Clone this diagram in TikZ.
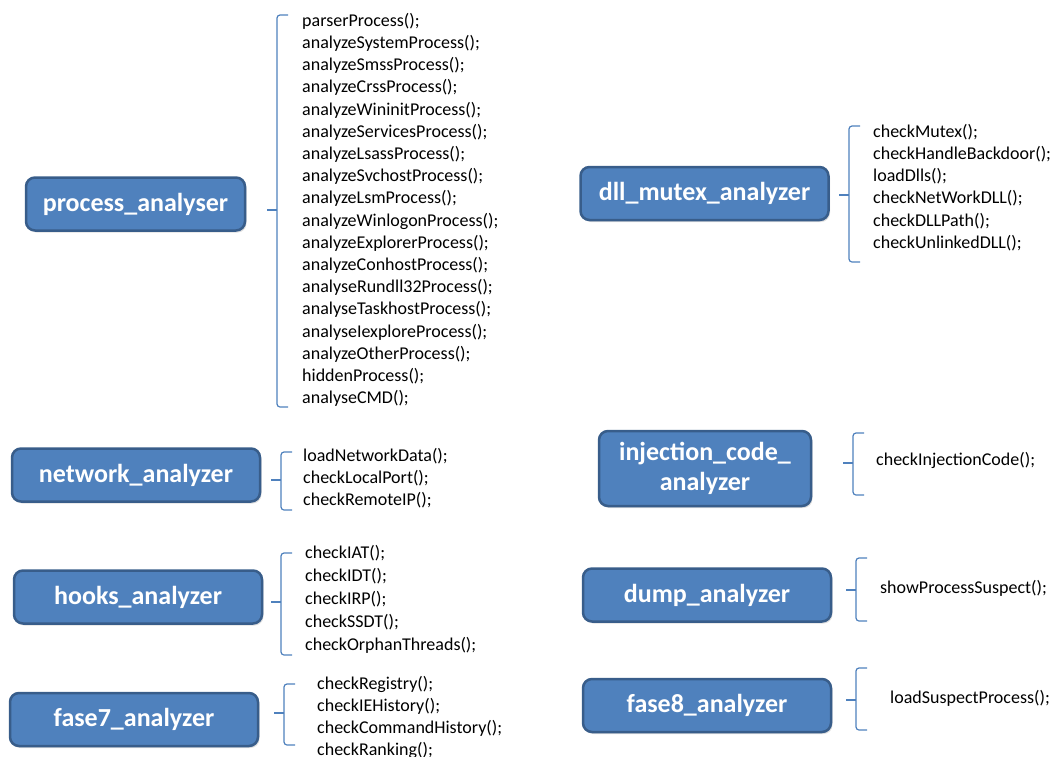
\documentclass[tikz,border=0pt]{standalone}
\usepackage{fontspec}
\setmainfont{Carlito}
\usetikzlibrary{shadows}

\definecolor{boxblue}{HTML}{4F81BD}
\definecolor{boxline}{HTML}{385D8A}

% brace: x, top, tick, bottom
\newcommand{\fnbrace}[4]{%
  \draw[methodbrace] (#1+11,#2) -- (#1,#2) -- (#1,#4) -- (#1+11,#4);
  \draw[methodbrace] (#1-10,#3) -- (#1,#3);}

\begin{document}
\begin{tikzpicture}[x=1pt, y=-1pt,
    analyzer/.style={draw=boxline, line width=2.5pt, fill=boxblue, rounded corners=9pt,
      text=white, font=\bfseries\fontsize{26}{30}\selectfont, align=center,
      minimum width=248pt, minimum height=53pt, inner sep=0pt,
      drop shadow={opacity=0.25, shadow xshift=1.5pt, shadow yshift=-2pt}},
    methods/.style={anchor=north west, inner sep=0pt, align=left,
      font=\fontsize{18}{22.2}\selectfont},
    methodbrace/.style={draw=boxblue, line width=1.2pt, rounded corners=3pt}]
  \useasboundingbox (0,0) rectangle (1053,756);

  \node[analyzer, minimum width=219pt] (proc) at (135.5,204) {process\_analyser};
  \node[analyzer] (dll) at (704.5,193.5) {dll\_mutex\_analyzer};
  \node[analyzer] (net) at (136,475) {network\_analyzer};
  \node[analyzer, minimum width=212pt, minimum height=75pt] (inj) at (705,468.5) {injection\_code\_\\analyzer};
  \node[analyzer] (hooks) at (138,597) {hooks\_analyzer};
  \node[analyzer] (dump) at (707,595) {dump\_analyzer};
  \node[analyzer] (fase7) at (134,719.5) {fase7\_analyzer};
  \node[analyzer] (fase8) at (707,705.5) {fase8\_analyzer};

  \node[methods] (procList) at (302,13) {parserProcess();\\analyzeSystemProcess();\\analyzeSmssProcess();\\
    analyzeCrssProcess();\\analyzeWininitProcess();\\analyzeServicesProcess();\\analyzeLsassProcess();\\
    analyzeSvchostProcess();\\analyzeLsmProcess();\\analyzeWinlogonProcess();\\analyzeExplorerProcess();\\
    analyzeConhostProcess();\\analyseRundll32Process();\\analyseTaskhostProcess();\\analyseIexploreProcess();\\
    analyzeOtherProcess();\\hiddenProcess();\\analyseCMD();};
  \node[methods] (dllList) at (873,124) {checkMutex();\\checkHandleBackdoor();\\loadDlls();\\
    checkNetWorkDLL();\\checkDLLPath();\\checkUnlinkedDLL();};
  \node[methods] (netList) at (303,448) {loadNetworkData();\\checkLocalPort();\\checkRemoteIP();};
  \node[methods] (injList) at (876,452) {checkInjectionCode();};
  \node[methods, font=\fontsize{18}{23}\selectfont] (hooksList) at (305,545)
    {checkIAT();\\checkIDT();\\checkIRP();\\checkSSDT();\\checkOrphanThreads();};
  \node[methods] (dumpList) at (880,580) {showProcessSuspect();};
  \node[methods] (fase7List) at (317,676) {checkRegistry();\\checkIEHistory();\\checkCommandHistory();\\checkRanking();};
  \node[methods] (fase8List) at (890,690) {loadSuspectProcess();};

  \fnbrace{277}{15}{210}{407}
  \fnbrace{849}{126}{195}{262}
  \fnbrace{281}{452}{480}{510}
  \fnbrace{853}{433}{463}{495}
  \fnbrace{281}{553}{602}{655}
  \fnbrace{856}{558}{590}{621}
  \fnbrace{284}{684}{713}{745}
  \fnbrace{856}{668}{700}{730}
\end{tikzpicture}
\end{document}
